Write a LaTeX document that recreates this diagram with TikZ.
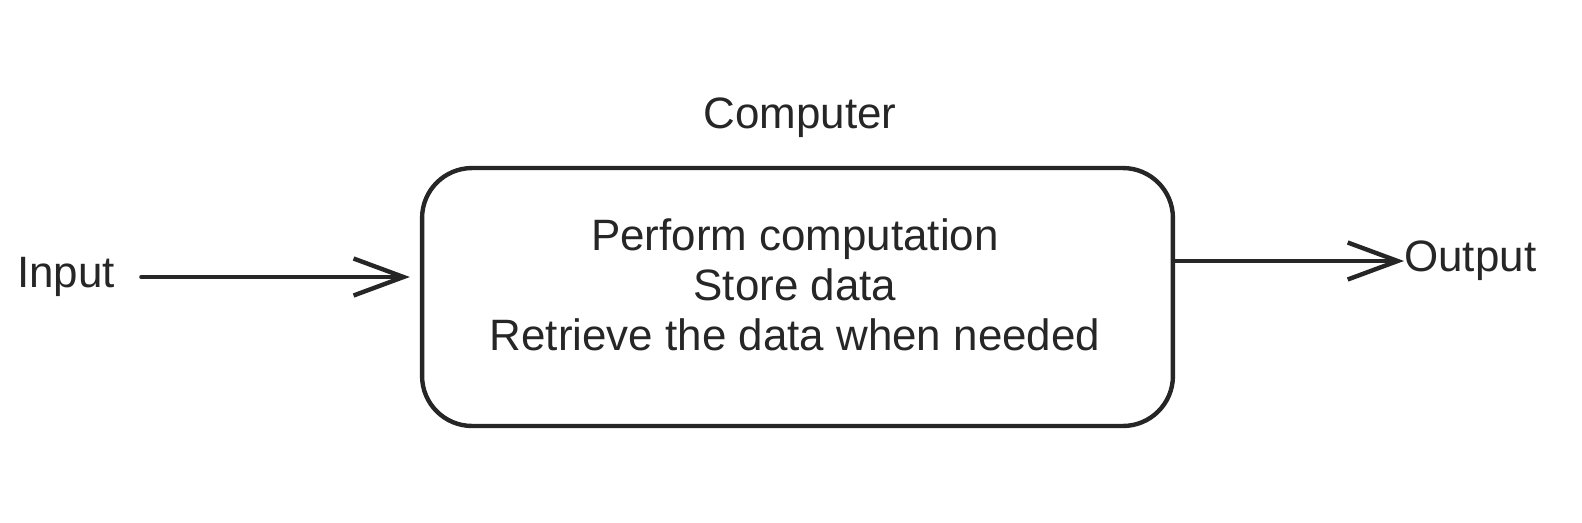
\documentclass[tikz,border=0pt]{standalone}
\usepackage{fontspec}
\setmainfont{Liberation Sans}
\usepackage{tikz}
\usetikzlibrary{arrows.meta,calc}
\usetikzlibrary{positioning}

\tikzset{
  sketch/.style={draw=black!85, line width=2.5pt},
  unitbox/.style={sketch, rounded corners=1cm, minimum width=15.02cm, minimum height=5.16cm},
  lbl/.style={font=\fontsize{25}{28.5}\selectfont, text=black!85, inner sep=0pt},
  arr/.style={draw=black!85, line width=2.5pt, line cap=round, -{Straight Barb[length=1cm, width=0.74cm, line width=2.5pt]}}
}

\begin{document}
\begin{tikzpicture}[x=0.02cm, y=-0.02cm]
            \useasboundingbox (0,0) rectangle (1582,522);
            \node[unitbox] at (797.5,297) (box) {};
            \node[lbl, align=center] at (795,285) (tasks) {Perform computation\\Store data\\Retrieve the data when needed};
            \node[lbl] at (800,118) (title) {Computer};
            \node[lbl, anchor=west] at (17,277) (inp) {Input};
            \node[lbl, anchor=west] at (1404,261) (outp) {Output};
            \draw[arr, shorten <=0.52cm, shorten >=0.2cm] (inp.east) -- (inp -| box.west);
            \draw[arr] (box.east |- outp) -- (outp.west);
        \end{tikzpicture}
\end{document}
